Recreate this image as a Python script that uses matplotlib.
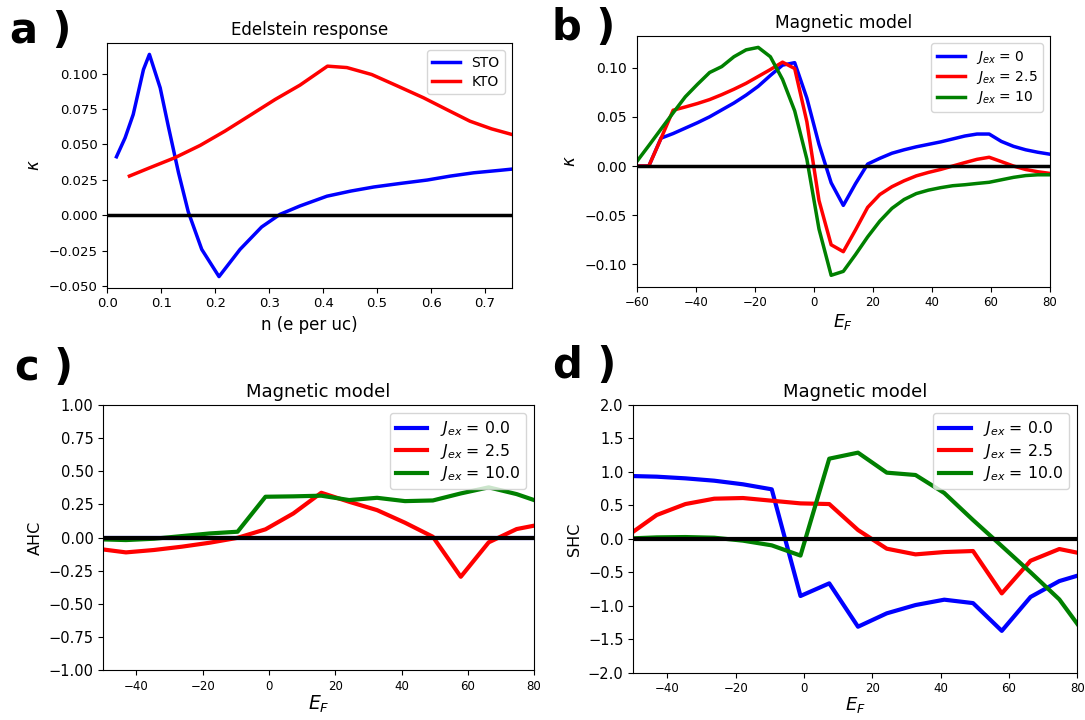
import matplotlib
matplotlib.use("Agg")
import matplotlib.pyplot as plt

# ---------------- Panel a: Edelstein response ----------------
sto_n = [0.017, 0.033, 0.048, 0.067, 0.078, 0.098, 0.113, 0.132, 0.150, 0.175,
         0.207, 0.246, 0.286, 0.320, 0.357, 0.407, 0.451, 0.494, 0.543, 0.593,
         0.636, 0.679, 0.729, 0.750]
sto_k = [0.0413, 0.0547, 0.0711, 0.1028, 0.1135, 0.0899, 0.0629, 0.0300, 0.0025, -0.0240,
         -0.0432, -0.0240, -0.0082, 0.0007, 0.0066, 0.0135, 0.0171, 0.0200, 0.0225, 0.0249,
         0.0277, 0.0300, 0.0318, 0.0326]
kto_n = [0.041, 0.079, 0.125, 0.172, 0.218, 0.264, 0.311, 0.357, 0.408, 0.444,
         0.490, 0.536, 0.586, 0.629, 0.672, 0.712, 0.750]
kto_k = [0.0277, 0.0336, 0.0406, 0.0493, 0.0594, 0.0704, 0.0817, 0.0918, 0.1052, 0.1042,
         0.0993, 0.0915, 0.0829, 0.0746, 0.0664, 0.0610, 0.0570]

# ---------------- Panel b: Magnetic model (kappa) ----------------
ef_b = [-60.0, -55.88, -51.76, -47.65, -43.53, -39.41, -35.29, -31.18, -27.06, -22.94,
        -18.82, -14.71, -10.59, -6.47, -2.35, 1.76, 5.88, 10.0, 14.12, 18.24,
        22.35, 26.47, 30.59, 34.71, 38.82, 42.94, 47.06, 51.18, 55.29, 59.41,
        63.53, 67.65, 71.76, 75.88, 80.0]
kb_j0 = [0, 0, 0.0283, 0.033, 0.0385, 0.044, 0.050, 0.057, 0.064, 0.072,
         0.081, 0.092, 0.1025, 0.105, 0.069, 0.022, -0.017, -0.040, -0.018, 0.002,
         0.0078, 0.013, 0.0165, 0.0195, 0.022, 0.0245, 0.0275, 0.0305, 0.0325, 0.0325,
         0.025, 0.020, 0.0165, 0.014, 0.012]
kb_j25 = [0, 0, 0.028, 0.0567, 0.060, 0.0635, 0.0675, 0.0725, 0.078, 0.084,
          0.091, 0.098, 0.1055, 0.099, 0.045, -0.035, -0.080, -0.087, -0.065, -0.042,
          -0.029, -0.021, -0.015, -0.010, -0.0065, -0.0035, 0.0, 0.0035, 0.0068, 0.0089,
          0.0045, 0.0, -0.0035, -0.0058, -0.0075]
kb_j10 = [0.0044, 0.0208, 0.0375, 0.054, 0.0703, 0.083, 0.095, 0.101, 0.111, 0.118,
          0.1205, 0.111, 0.088, 0.056, 0.007, -0.064, -0.111, -0.107, -0.090, -0.072,
          -0.056, -0.043, -0.034, -0.028, -0.0245, -0.022, -0.020, -0.019, -0.0177, -0.0165,
          -0.014, -0.0115, -0.0097, -0.0089, -0.0089]
labels_b = [r"$J_{ex}$ = 0", r"$J_{ex}$ = 2.5", r"$J_{ex}$ = 10"]

# ---------------- Panels c, d: AHC / SHC ----------------
ef_cd = [-51.58, -43.16, -34.74, -26.32, -17.89, -9.47, -1.05, 7.37, 15.79, 24.21,
         32.63, 41.05, 49.47, 57.89, 66.32, 74.74, 83.16]
ahc_j0 = [0.0] * 17
ahc_j25 = [-0.085, -0.112, -0.094, -0.069, -0.039, -0.002, 0.062, 0.182, 0.338, 0.270,
           0.207, 0.112, 0.006, -0.296, -0.036, 0.064, 0.105]
ahc_j10 = [-0.013, -0.019, -0.009, 0.011, 0.031, 0.044, 0.308, 0.311, 0.316, 0.283,
           0.300, 0.275, 0.280, 0.333, 0.379, 0.328, 0.256]
shc_j0 = [0.940, 0.929, 0.904, 0.869, 0.815, 0.740, -0.854, -0.665, -1.313, -1.113,
          -0.989, -0.909, -0.960, -1.375, -0.868, -0.631, -0.503]
shc_j25 = [0.050, 0.356, 0.520, 0.600, 0.610, 0.570, 0.530, 0.520, 0.132, -0.147,
           -0.232, -0.197, -0.182, -0.815, -0.327, -0.152, -0.240]
shc_j10 = [0.005, 0.022, 0.027, 0.017, -0.027, -0.097, -0.250, 1.198, 1.288, 0.989,
           0.954, 0.685, 0.281, -0.108, -0.500, -0.905, -1.490]
labels_cd = [r"$J_{ex}$ = 0.0", r"$J_{ex}$ = 2.5", r"$J_{ex}$ = 10.0"]

colors = ["b", "r", "g"]

fig = plt.figure(figsize=(10.85, 7.2), dpi=100)

# Panel a
axa = fig.add_axes([0.0989, 0.6004, 0.3730, 0.3395])
axa.plot(sto_n, sto_k, color="b", lw=2.5, label="STO")
axa.plot(kto_n, kto_k, color="r", lw=2.5, label="KTO")
axa.axhline(0, color="k", lw=2.5, zorder=5)
axa.set_xlim(0, 0.75)
axa.set_xticks([0.0, 0.1, 0.2, 0.3, 0.4, 0.5, 0.6, 0.7])
axa.set_yticks([-0.050, -0.025, 0.0, 0.025, 0.050, 0.075, 0.100])
axa.tick_params(labelsize=9.5)
axa.set_title("Edelstein response", fontsize=12)
axa.set_xlabel("n (e per uc)", fontsize=12)
axa.set_ylabel(r"$\kappa$", fontsize=12)
axa.legend(loc="upper right", fontsize=10, labelspacing=0.35)

# Panel b
axb = fig.add_axes([0.5868, 0.6018, 0.3809, 0.3482])
for yv, c, lab in zip([kb_j0, kb_j25, kb_j10], colors, labels_b):
    axb.plot(ef_b, yv, color=c, lw=2.5, label=lab)
axb.axhline(0, color="k", lw=2.5, zorder=5)
axb.set_xlim(-60, 80)
axb.set_yticks([-0.10, -0.05, 0.0, 0.05, 0.10])
axb.tick_params(axis="y", labelsize=10)
axb.tick_params(axis="x", labelsize=8.5)
axb.set_title("Magnetic model", fontsize=12.3)
axb.set_xlabel(r"$E_F$", fontsize=12.5, labelpad=2)
axb.set_ylabel(r"$\kappa$", fontsize=12)
axb.legend(loc="upper right", fontsize=10, labelspacing=0.25)

# Panel c
axc = fig.add_axes([0.0952, 0.0694, 0.3970, 0.3680])
for yv, c, lab in zip([ahc_j0, ahc_j25, ahc_j10], colors, labels_cd):
    axc.plot(ef_cd, yv, color=c, lw=3, label=lab)
axc.axhline(0, color="k", lw=3, zorder=5)
axc.set_xlim(-50, 80)
axc.set_ylim(-1, 1)
axc.set_yticks([-1.0, -0.75, -0.5, -0.25, 0.0, 0.25, 0.5, 0.75, 1.0])
axc.set_yticklabels(["\u22121.00", "\u22120.75", "\u22120.50", "\u22120.25", "0.00",
                     "0.25", "0.50", "0.75", "1.00"])
axc.tick_params(axis="y", labelsize=10.5)
axc.tick_params(axis="x", labelsize=8.5)
axc.set_title("Magnetic model", fontsize=13)
axc.set_xlabel(r"$E_F$", fontsize=13.5, labelpad=1)
axc.set_ylabel("AHC", fontsize=11.5)
axc.legend(loc="upper right", fontsize=11.3, labelspacing=0.22)

# Panel d
axd = fig.add_axes([0.5837, 0.0657, 0.4092, 0.3718])
for yv, c, lab in zip([shc_j0, shc_j25, shc_j10], colors, labels_cd):
    axd.plot(ef_cd, yv, color=c, lw=3, label=lab)
axd.axhline(0, color="k", lw=3, zorder=5)
axd.set_xlim(-50, 80)
axd.set_ylim(-2, 2)
axd.set_yticks([-2.0, -1.5, -1.0, -0.5, 0.0, 0.5, 1.0, 1.5, 2.0])
axd.tick_params(axis="y", labelsize=10.5)
axd.tick_params(axis="x", labelsize=8.5)
axd.set_title("Magnetic model", fontsize=13)
axd.set_xlabel(r"$E_F$", fontsize=13, labelpad=0)
axd.set_ylabel("SHC", fontsize=11.5)
axd.legend(loc="upper right", fontsize=11.3, labelspacing=0.22)

# Panel letters
fig.text(0.0092, 0.9407, "a )", fontsize=30, fontweight="bold", va="baseline")
fig.text(0.5085, 0.9444, "b )", fontsize=30, fontweight="bold", va="baseline")
fig.text(0.0138, 0.4722, "c )", fontsize=30, fontweight="bold", va="baseline")
fig.text(0.5097, 0.4750, "d )", fontsize=30, fontweight="bold", va="baseline")

fig.savefig("out.png", dpi=100)
